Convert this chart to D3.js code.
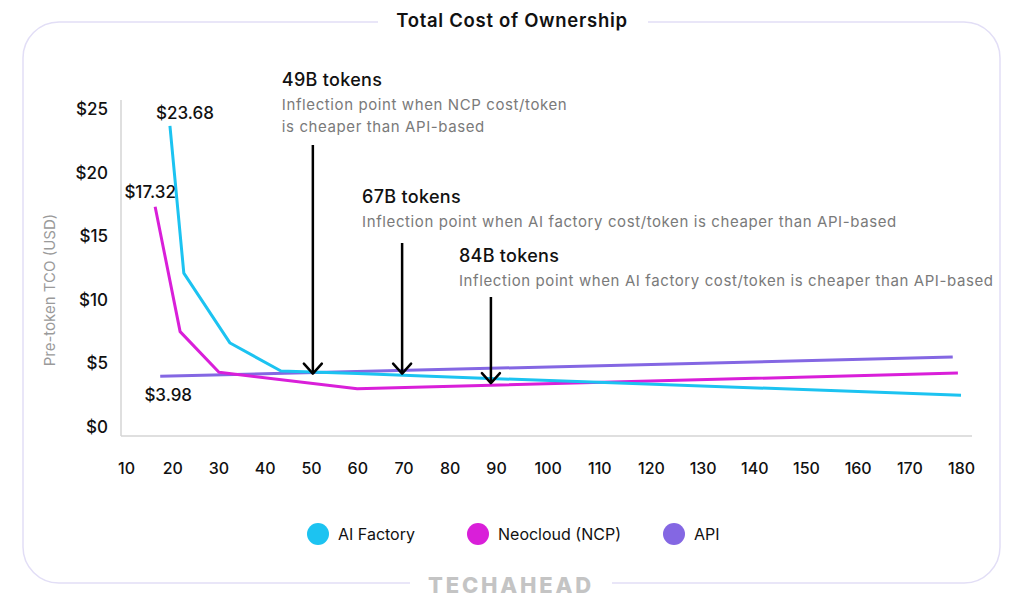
<!DOCTYPE html>
<html>
<head>
<meta charset="utf-8">
<script src="https://cdn.jsdelivr.net/npm/d3@7"></script>
<style>
  html, body { margin: 0; padding: 0; background: #fff; }
  svg { display: block; font-family: Inter, "Open Sans", sans-serif; }
</style>
</head>
<body>
<div id="chart"></div>
<script>
// Tokens (billions) on x, per-token TCO (USD) on y
const xTicks = [10, 20, 30, 40, 50, 60, 70, 80, 90, 100, 110, 120, 130, 140, 150, 160, 170, 180];
const yTicks = [0, 5, 10, 15, 20, 25];

const aiFactory = [[19.5, 23.68], [22.5, 12.1], [32.5, 6.6], [43.5, 4.4], [60, 4.2], [90, 3.8], [180, 2.5]];
const neocloud = [[16.3, 17.32], [21.7, 7.5], [30.1, 4.3], [60, 3.0], [179.4, 4.25]];
const api = [[17.4, 3.98], [178.4, 5.5]];

const seriesNames = ["AI Factory", "Neocloud (NCP)", "API"];

const inflectionTokens = ["49B tokens", "67B tokens", "84B tokens"];
const inflectionX = [50.4, 69.7, 88.9];
const inflectionY = [4.2, 4.2, 3.45];
const inflectionNotes = [
  ["Inflection point when NCP cost/token", "is cheaper than API-based"],
  ["Inflection point when AI factory cost/token is cheaper than API-based"],
  ["Inflection point when AI factory cost/token is cheaper than API-based"],
];

const COLORS = { ai: "#1cc3f1", ncp: "#d91fd9", api: "#8467e3" };

const W = 1024, H = 609;
const svg = d3.select("#chart").append("svg").attr("width", W).attr("height", H);

// —— Frame ——
svg.append("rect")
  .attr("x", 23).attr("y", 22).attr("width", 977).attr("height", 561)
  .attr("rx", 36).attr("fill", "none")
  .attr("stroke", "#e2def6").attr("stroke-width", 1.5);

svg.append("rect").attr("x", 378).attr("y", 10).attr("width", 270).attr("height", 24).attr("fill", "#fff");
svg.append("text")
  .attr("x", 512).attr("y", 21).attr("dy", "0.35em")
  .attr("text-anchor", "middle")
  .attr("font-size", 18.5).attr("font-weight", 600).attr("letter-spacing", 0.7).attr("fill", "#111")
  .text("Total Cost of Ownership");

svg.append("rect").attr("x", 410).attr("y", 572).attr("width", 202).attr("height", 24).attr("fill", "#fff");
svg.append("text")
  .attr("x", 511).attr("y", 585).attr("dy", "0.35em")
  .attr("text-anchor", "middle")
  .attr("font-size", 22).attr("font-weight", 800).attr("letter-spacing", 2.8)
  .attr("fill", "#c4c4c4")
  .text("TECHAHEAD");

// —— Scales ——
const x = d3.scaleLinear().domain([10, 90, 180]).range([126, 496, 961]);
const y = d3.scaleLinear().domain([0, 25]).range([427, 109]);

const axisX0 = 121, axisY0 = 436;

svg.append("line")
  .attr("x1", axisX0).attr("x2", axisX0).attr("y1", 100).attr("y2", axisY0)
  .attr("stroke", "#d4d4d4").attr("stroke-width", 1.5);
svg.append("line")
  .attr("x1", axisX0).attr("x2", 972).attr("y1", axisY0).attr("y2", axisY0)
  .attr("stroke", "#d4d4d4").attr("stroke-width", 1.5);

const yAxis = svg.append("g")
  .attr("transform", "translate(108,0)")
  .call(d3.axisLeft(y).tickValues(yTicks).tickSize(0).tickPadding(0).tickFormat(d => `$${d}`));
yAxis.select(".domain").remove();
yAxis.selectAll("text")
  .attr("font-family", "Inter, sans-serif")
  .attr("font-size", 17).attr("font-weight", 500).attr("fill", "#111");

const xAxis = svg.append("g")
  .attr("transform", "translate(0,463)")
  .call(d3.axisBottom(x).tickValues(xTicks).tickSize(0).tickPadding(0).tickFormat(d3.format("d")));
xAxis.select(".domain").remove();
xAxis.selectAll("text")
  .attr("font-family", "Inter, sans-serif")
  .attr("font-size", 16).attr("font-weight", 500).attr("fill", "#111");

svg.append("text")
  .attr("transform", "translate(50,290) rotate(-90)")
  .attr("text-anchor", "middle").attr("dy", "0.35em")
  .attr("font-size", 15).attr("fill", "#9a9a9a")
  .text("Pre-token TCO (USD)");

// —— Lines ——
const line = d3.line().x(d => x(d[0])).y(d => y(d[1]));
const seriesList = [
  { data: api, color: COLORS.api },
  { data: neocloud, color: COLORS.ncp },
  { data: aiFactory, color: COLORS.ai },
];
seriesList.forEach(s => {
  svg.append("path")
    .datum(s.data)
    .attr("fill", "none")
    .attr("stroke", s.color)
    .attr("stroke-width", 3)
    .attr("stroke-linejoin", "round")
    .attr("d", line);
});

// —— Start value labels ——
const startLabels = [
  { pt: aiFactory[0], dx: 15, dy: -13 },
  { pt: neocloud[0], dx: -5, dy: -15 },
  { pt: api[0], dx: 8, dy: 19 },
];
startLabels.forEach(l => {
  svg.append("text")
    .attr("x", x(l.pt[0]) + l.dx)
    .attr("y", y(l.pt[1]) + l.dy)
    .attr("dy", "0.35em")
    .attr("text-anchor", "middle")
    .attr("font-size", 17).attr("font-weight", 500).attr("fill", "#111")
    .text(`$${d3.format(".2f")(l.pt[1])}`);
});

// —— Inflection annotations ——
const annoLayout = [
  { textDx: -31, titleY: 80, arrowTop: 145 },
  { textDx: -40, titleY: 197, arrowTop: 243 },
  { textDx: -32, titleY: 256, arrowTop: 297 },
];
inflectionTokens.forEach((label, i) => {
  const ax = x(inflectionX[i]);
  const ay = y(inflectionY[i]);
  const lay = annoLayout[i];
  const tx = ax + lay.textDx;

  svg.append("text")
    .attr("x", tx).attr("y", lay.titleY).attr("dy", "0.35em")
    .attr("font-size", 18).attr("font-weight", 500).attr("letter-spacing", 0.3).attr("fill", "#111")
    .text(label);

  inflectionNotes[i].forEach((ln, j) => {
    svg.append("text")
      .attr("x", tx).attr("y", lay.titleY + 25 + j * 22).attr("dy", "0.35em")
      .attr("font-size", 15).attr("letter-spacing", 0.6).attr("fill", "#7a7a7a")
      .text(ln);
  });

  svg.append("line")
    .attr("x1", ax).attr("x2", ax).attr("y1", lay.arrowTop).attr("y2", ay)
    .attr("stroke", "#000").attr("stroke-width", 2.5);
  svg.append("path")
    .attr("d", `M${ax - 9},${ay - 10} L${ax},${ay} L${ax + 9},${ay - 10}`)
    .attr("fill", "none").attr("stroke", "#000").attr("stroke-width", 2.5)
    .attr("stroke-linecap", "round").attr("stroke-linejoin", "round");
});

// —— Legend ——
const legendX = [318, 478, 674];
const legendColors = [COLORS.ai, COLORS.ncp, COLORS.api];
const legend = svg.append("g").attr("transform", "translate(0,534)");
const item = legend.selectAll("g")
  .data(seriesNames)
  .join("g")
  .attr("transform", (d, i) => `translate(${legendX[i]},0)`);
item.append("circle").attr("r", 11).attr("fill", (d, i) => legendColors[i]);
item.append("text")
  .attr("x", 20).attr("dy", "0.35em")
  .attr("font-size", 16).attr("fill", "#111")
  .text(d => d);
</script>
</body>
</html>
